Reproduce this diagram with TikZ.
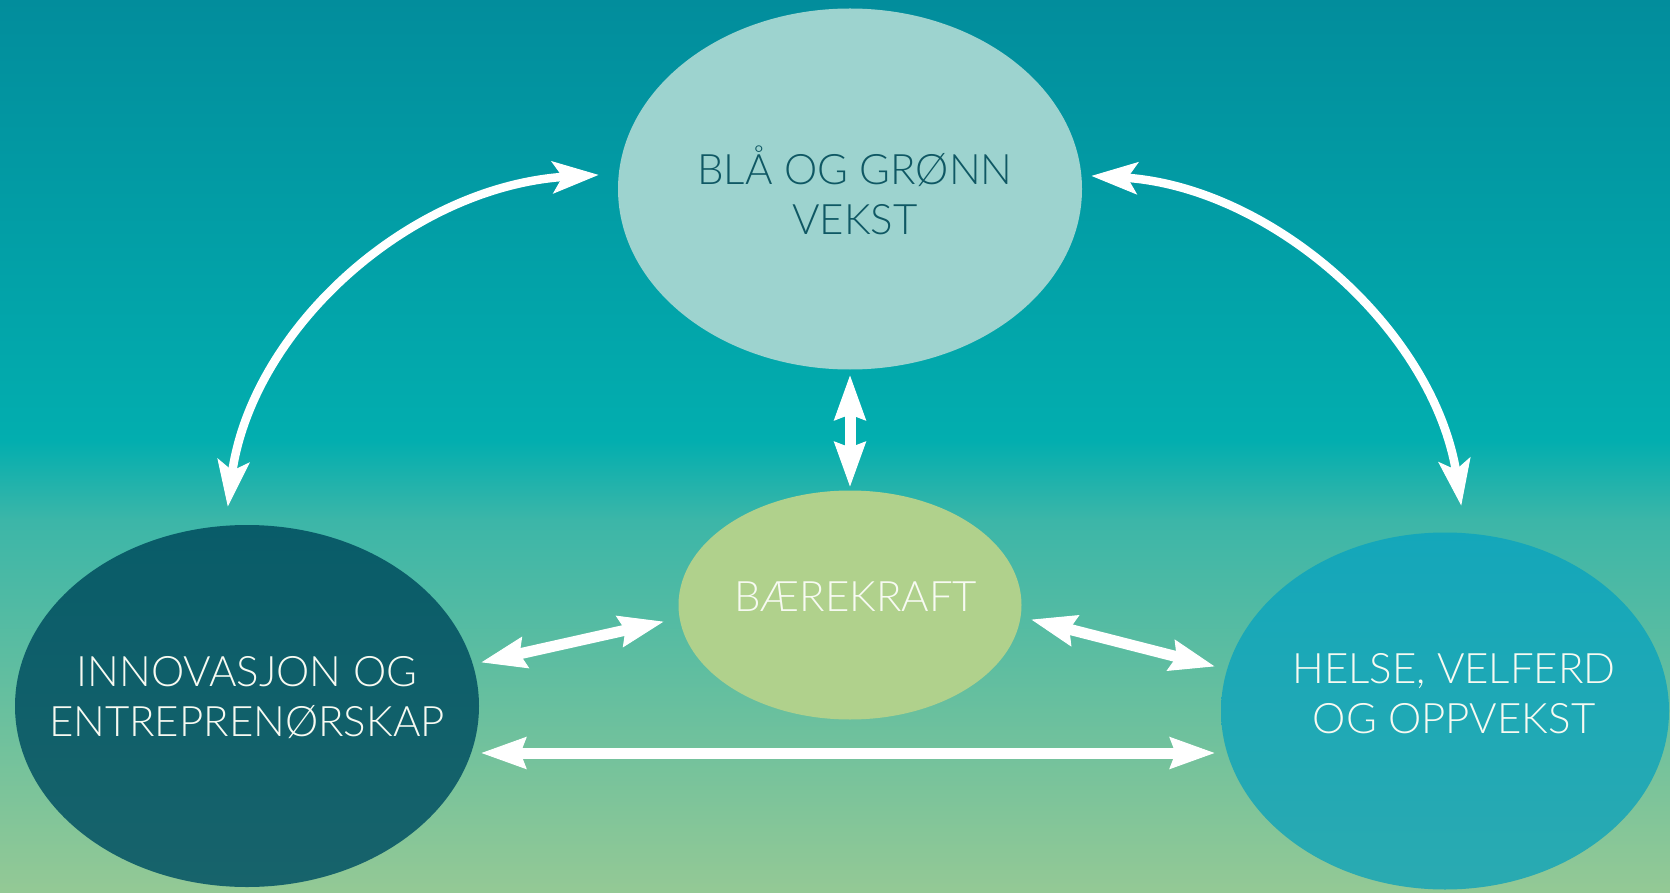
\documentclass[tikz,border=0pt]{standalone}
\usepackage{fontspec}
\setmainfont{Lato Light}
\usetikzlibrary{calc,decorations.markings,shapes.geometric}
\definecolor{bgA}{HTML}{028D9C}
\definecolor{bgB}{HTML}{02AEAF}
\definecolor{bgC}{HTML}{3CB6A8}
\definecolor{bgD}{HTML}{94C995}
\definecolor{topfill}{HTML}{9DD3CF}
\definecolor{midfill}{HTML}{B0D18C}
\definecolor{leftA}{HTML}{095C69}
\definecolor{leftB}{HTML}{17636B}
\definecolor{rightA}{HTML}{14A7BA}
\definecolor{rightB}{HTML}{2AAAB1}
\definecolor{darktxt}{HTML}{0F5864}
\definecolor{lighttxt}{HTML}{F7FAF2}
\tikzset{
  blob/.style={ellipse, inner sep=0pt, outer sep=0pt},
  lbl/.style={align=center, inner sep=0pt, font=\fontsize{42}{50}\selectfont},
  headfill/.style={fill=white, draw=white, line width=1pt, line join=miter},
  shaft/.style={draw=white, line width=11pt, shorten <=30pt, shorten >=30pt},
  arcshaft/.style={draw=white, line width=8.5pt, shorten <=28pt, shorten >=28pt},
  heads/.style={postaction={decorate}, decoration={markings,
    mark=at position 0 with {\path[headfill] (0,0) -- (43,15.5) -- (37,0) -- (43,-15.5) -- cycle;},
    mark=at position 1 with {\path[headfill] (0,0) -- (-43,15.5) -- (-37,0) -- (-43,-15.5) -- cycle;}}},
  archeads/.style={postaction={decorate}, decoration={markings,
    mark=at position 0 with {\path[headfill] (0,0) -- (44,15.5) -- (34,0) -- (44,-15.5) -- cycle;},
    mark=at position 1 with {\path[headfill] (0,0) -- (-44,15.5) -- (-34,0) -- (-44,-15.5) -- cycle;}}}
}
\begin{document}
\begin{tikzpicture}[x=1pt,y=-1pt]
\useasboundingbox (0,0) rectangle (1670,893);
% background
\shade[top color=bgA, bottom color=bgB] (0,0) rectangle (1670,441);
\shade[top color=bgB, bottom color=bgC] (0,440) rectangle (1670,521);
\shade[top color=bgC, bottom color=bgD] (0,520) rectangle (1670,893);
% nodes
\node[blob, fill=topfill, minimum width=464pt, minimum height=361pt] (top) at (850,189) {};
\node[blob, fill=midfill, minimum width=343pt, minimum height=229pt] (mid) at (850,605) {};
\node[blob, top color=leftA, bottom color=leftB, minimum width=464pt, minimum height=362pt] (left) at (247,706) {};
\node[blob, top color=rightA, bottom color=rightB, minimum width=448pt, minimum height=357pt] (right) at (1445,711) {};
% labels
\node[lbl, text=darktxt] (toptxt) at (855,190) {BLÅ OG GRØNN\\VEKST};
\node[lbl, text=lighttxt] (midtxt) at (856,597) {BÆREKRAFT};
\node[lbl, text=lighttxt] (lefttxt) at (247,698) {INNOVASJON OG\\ENTREPRENØRSKAP};
\node[lbl, text=lighttxt] (righttxt) at (1454,694) {HELSE, VELFERD\\OG OPPVEKST};
% connector end points (arrow tips), placed from the nodes
\coordinate (v1) at ($(top.south)+(0,7.5)$);
\coordinate (v2) at ($(mid.north)+(0,-5.5)$);
\coordinate (lm1) at ($(left.center)+(236,-44)$);
\coordinate (lm2) at ($(mid.center)+(-188,17)$);
\coordinate (mr1) at ($(mid.center)+(183,15)$);
\coordinate (mr2) at ($(right.center)+(-232,-45)$);
\coordinate (lr1) at ($(left.center)+(236,47)$);
\coordinate (lr2) at ($(right.center)+(-232,42)$);
\coordinate (cl1) at ($(left.center)+(-19,-201)$);
\coordinate (cl2) at ($(top.center)+(-253,-14)$);
\coordinate (cr1) at ($(top.center)+(243,-13)$);
\coordinate (cr2) at ($(right.center)+(16,-207)$);
% shafts
\draw[shaft] (v1) -- (v2);
\draw[shaft] (lm1) -- (lm2);
\draw[shaft] (mr1) -- (mr2);
\draw[shaft] (lr1) -- (lr2);
\draw[arcshaft] (cl1) .. controls +(22,-175) and +(-187,10) .. (cl2);
\draw[arcshaft] (cr1) .. controls +(177,9) and +(-26,-174) .. (cr2);
% heads
\path[heads] (v1) -- (v2);
\path[heads] (lm1) -- (lm2);
\path[heads] (mr1) -- (mr2);
\path[heads] (lr1) -- (lr2);
\path[archeads] (cl1) .. controls +(22,-175) and +(-187,10) .. (cl2);
\path[archeads] (cr1) .. controls +(177,9) and +(-26,-174) .. (cr2);
\end{tikzpicture}
\end{document}
